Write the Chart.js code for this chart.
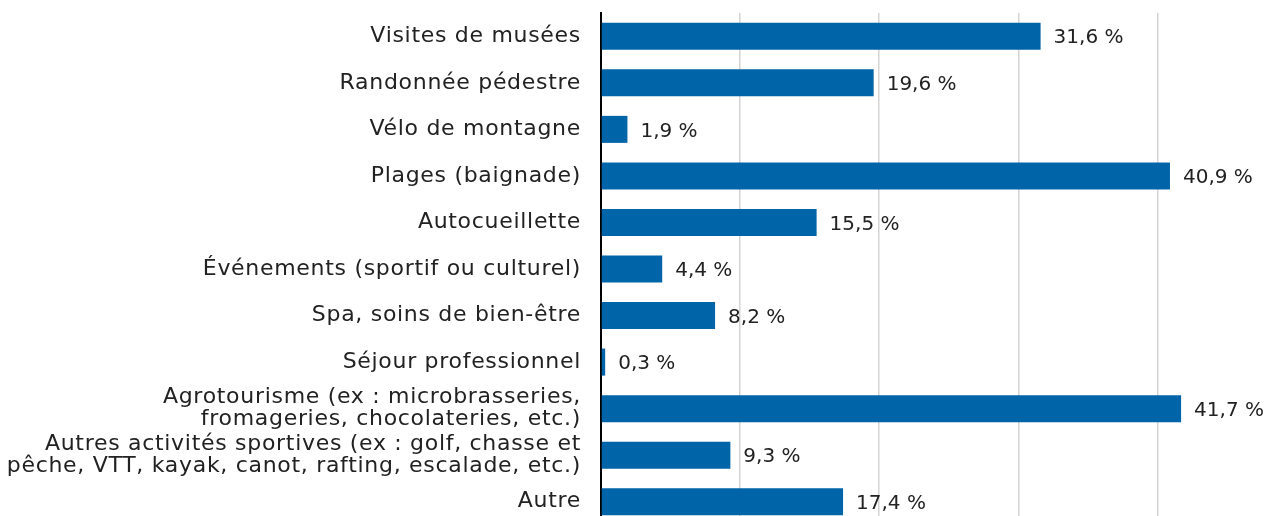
<!DOCTYPE html>
<html>
<head>
<meta charset="utf-8">
<script src="https://cdn.jsdelivr.net/npm/chart.js@4"></script>
<style>
  html, body { margin: 0; padding: 0; background: #fff; overflow: hidden; }
  #wrap { width: 1264px; height: 525px; }
</style>
</head>
<body>
<div id="wrap"><canvas id="activitiesChart"></canvas></div>
<script>
// Categories (multi-line ones as arrays)
const activities = [
    'Visites de musées',
    'Randonnée pédestre',
    'Vélo de montagne',
    'Plages (baignade)',
    'Autocueillette',
    'Événements (sportif ou culturel)',
    'Spa, soins de bien-être',
    'Séjour professionnel',
    ['Agrotourisme (ex : microbrasseries,', 'fromageries, chocolateries, etc.)'],
    ['Autres activités sportives (ex : golf, chasse et', 'pêche, VTT, kayak, canot, rafting, escalade, etc.)'],
    'Autre'
];

// Share of respondents (%)
const shares = [31.6, 19.6, 1.9, 40.9, 15.5, 4.4, 8.2, 0.3, 41.7, 9.3, 17.4];

const fontFamily = '"DejaVu Sans", sans-serif';

// Slightly wider lettering for the category labels
const wideText = {
    id: 'wideText',
    beforeDraw(chart) {
        chart.ctx.letterSpacing = '0.7px';
    }
};

// Write the value next to each bar
const valueLabels = {
    id: 'valueLabels',
    afterDatasetsDraw(chart) {
        const ctx = chart.ctx;
        const meta = chart.getDatasetMeta(0);
        ctx.save();
        ctx.letterSpacing = '0px';
        ctx.font = '20px ' + fontFamily;
        ctx.fillStyle = '#222';
        ctx.textAlign = 'left';
        ctx.textBaseline = 'middle';
        meta.data.forEach(function (bar, i) {
            const text = shares[i].toFixed(1).replace('.', ',') + ' %';
            ctx.fillText(text, bar.x + 13, bar.y + 2);
        });
        ctx.restore();
    }
};

const ctx = document.getElementById('activitiesChart').getContext('2d');

const activitiesChart = new Chart(ctx, {
    type: 'bar',
    data: {
        labels: activities,
        datasets: [{
            data: shares,
            backgroundColor: '#0064a8',
            barPercentage: 0.58,
            categoryPercentage: 1.0
        }]
    },
    options: {
        indexAxis: 'y',
        responsive: true,
        maintainAspectRatio: false,
        animation: false,
        layout: {
            padding: { top: 13, right: 37, bottom: 0, left: 0 }
        },
        plugins: {
            legend: { display: false },
            tooltip: { enabled: false }
        },
        scales: {
            x: {
                min: 0,
                max: 45,
                ticks: { display: false, stepSize: 10 },
                border: { display: false },
                grid: {
                    drawTicks: false,
                    lineWidth: 1.5,
                    color: function (c) {
                        const v = c.tick ? c.tick.value : 0;
                        return (v > 0 && v % 10 === 0) ? '#d4d4d4' : 'rgba(0,0,0,0)';
                    }
                }
            },
            y: {
                grid: { display: false, drawTicks: false },
                border: { display: true, color: '#000', width: 2 },
                ticks: {
                    padding: 20,
                    color: '#222',
                    font: { family: fontFamily, size: 22, lineHeight: '22px' },
                    autoSkip: false
                },
                afterFit: function (scale) {
                    scale.width = 601;
                    scale.paddingTop = 0;
                    scale.paddingBottom = 0;
                }
            }
        }
    },
    plugins: [wideText, valueLabels]
});
</script>
</body>
</html>
